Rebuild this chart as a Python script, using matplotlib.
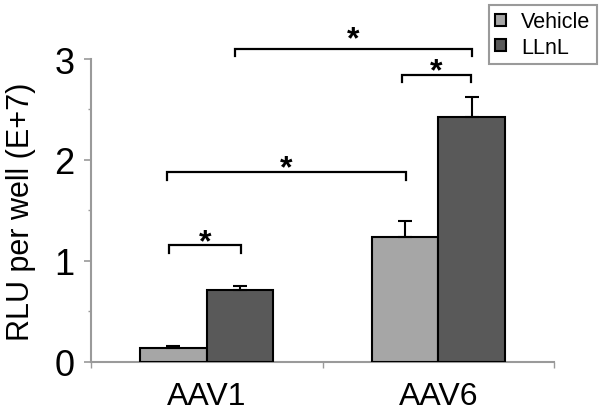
"""Grouped bar chart: RLU per well for AAV1 / AAV6, vehicle vs LLnL."""

import numpy as np
import matplotlib
matplotlib.use("Agg")
import matplotlib.pyplot as plt
from matplotlib.ticker import FixedLocator

# ---------------------------------------------------------------------------
# Data
# ---------------------------------------------------------------------------

CATEGORIES   = ["AAV1", "AAV6"]
SERIES       = ["Vehicle", "LLnL"]
VEHICLE      = [0.14, 1.24]
VEHICLE_ERR  = [0.02, 0.15]
LLNL         = [0.71, 2.43]
LLNL_ERR     = [0.04, 0.19]

# significance brackets: (x_left, x_right, line_y, star_y)
BRACKET_X0   = [-0.165, -0.172, 0.842, 0.122]
BRACKET_X1   = [0.147, 0.862, 1.143, 1.146]
BRACKET_Y    = [1.155, 1.877, 2.844, 3.104]
STAR_Y       = [1.10, 1.84, 2.80, 3.12]

# ---------------------------------------------------------------------------
# Style
# ---------------------------------------------------------------------------

FONT        = ["Liberation Sans", "DejaVu Sans"]
LIGHT_GRAY  = "#a6a6a6"
DARK_GRAY   = "#595959"
AXIS_GRAY   = "#9a9a9a"
BAR_WIDTH   = 0.288

plt.rcParams["font.family"] = FONT

fig = plt.figure(figsize=(6.04, 4.14), dpi=100)
ax = fig.add_axes([91 / 604, 51.3 / 414, 463 / 604, 302.7 / 414])

x = np.arange(len(CATEGORIES))
err_kw = dict(ecolor="black", elinewidth=1.5, capsize=5, capthick=1.5)

ax.bar(x - BAR_WIDTH / 2, VEHICLE, BAR_WIDTH, color=LIGHT_GRAY,
       edgecolor="black", linewidth=1.5, label=SERIES[0],
       yerr=[np.zeros(len(VEHICLE)), VEHICLE_ERR], error_kw=err_kw, zorder=3)
ax.bar(x + BAR_WIDTH / 2, LLNL, BAR_WIDTH, color=DARK_GRAY,
       edgecolor="black", linewidth=1.5, label=SERIES[1],
       yerr=[np.zeros(len(LLNL)), LLNL_ERR], error_kw=err_kw, zorder=3)

# Significance brackets
TICK_DROP = 0.075
for x0, x1, yb, ys in zip(BRACKET_X0, BRACKET_X1, BRACKET_Y, STAR_Y):
    ax.plot([x0, x0, x1, x1], [yb - TICK_DROP, yb, yb, yb - TICK_DROP],
            color="black", linewidth=1.6, clip_on=False, zorder=4,
            solid_joinstyle="miter")
    ax.text((x0 + x1) / 2, ys, "*", ha="center", va="baseline",
            fontsize=23, fontweight="bold", clip_on=False)

# Axes
ax.set_xlim(-0.5, 1.5)
ax.set_ylim(0, 3)

for side in ("top", "right"):
    ax.spines[side].set_visible(False)
for side in ("left", "bottom"):
    ax.spines[side].set_color(AXIS_GRAY)
    ax.spines[side].set_linewidth(1.5)

ax.set_xticks(x)
ax.set_xticklabels(CATEGORIES, fontsize=23)
ax.xaxis.set_minor_locator(FixedLocator([-0.5, 0.5, 1.5]))
ax.tick_params(axis="x", which="major", length=0, pad=14)
ax.tick_params(axis="x", which="minor", length=4, width=1, color=AXIS_GRAY,
               direction="out")

ax.set_yticks([0, 1, 2, 3])
ax.set_yticklabels(["0", "1", "2", "3"], fontsize=26)
ax.yaxis.set_minor_locator(FixedLocator([0.5, 1.5, 2.5]))
ax.tick_params(axis="y", which="major", length=5, width=1.2,
               color=AXIS_GRAY, pad=7)
ax.tick_params(axis="y", which="minor", length=2.5, width=1,
               color=AXIS_GRAY)

ax.set_ylabel("RLU per well (E+7)", fontsize=22, labelpad=13)

# Legend in the top-right corner of the figure
leg = fig.legend(loc="upper right", bbox_to_anchor=(597 / 604, 1 - 6 / 414),
                 fontsize=15.5, frameon=True, fancybox=False, framealpha=1,
                 handlelength=0.5, handleheight=0.5, handletextpad=0.7,
                 borderpad=0.3, labelspacing=0.2, borderaxespad=0)
leg.get_frame().set_edgecolor(AXIS_GRAY)
leg.get_frame().set_linewidth(1.5)

fig.savefig("out.png", dpi=100)
